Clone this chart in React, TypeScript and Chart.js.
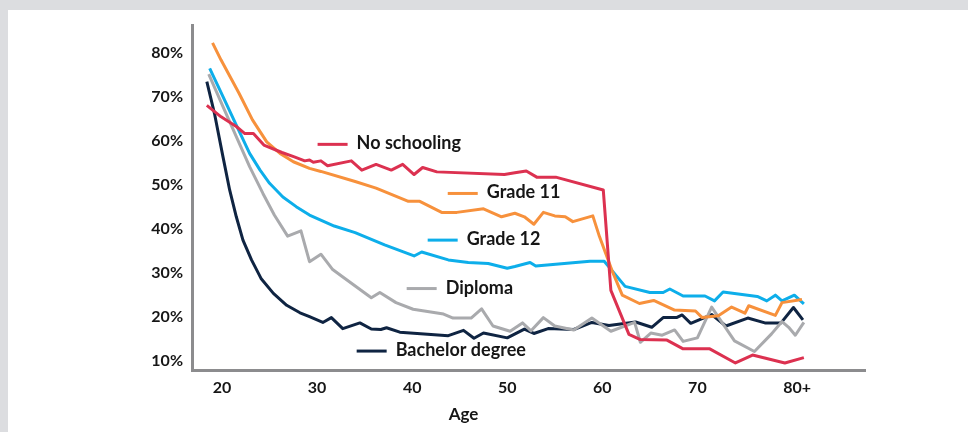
import React, { useEffect, useRef } from 'react';
import { Chart, registerables } from 'chart.js';

Chart.register(...registerables);

// ---- Data (ages in years, values in %) ----
const noSchoolingAges = [18.4, 19.9, 21.5, 22.4, 23.3, 24.4, 26.3, 27.6, 28.7, 29.2, 29.6, 30.4, 31.1, 33.6, 34.7, 36.2, 37.8, 39.0, 40.2, 41.1, 42.6, 49.7, 50.8, 52.0, 53.1, 55.1, 60.1, 60.9, 62.8, 64.0, 66.8, 68.5, 71.3, 74.0, 75.8, 79.2, 81.2];
const noSchoolingValues = [68.1, 65.5, 63.3, 61.7, 61.7, 59.1, 57.4, 56.4, 55.5, 55.7, 55.2, 55.5, 54.4, 55.5, 53.4, 54.7, 53.4, 54.7, 52.4, 54.0, 53.0, 52.4, 52.8, 53.2, 51.8, 51.8, 48.9, 26.1, 16.1, 14.9, 14.8, 12.8, 12.8, 9.6, 11.4, 9.6, 10.8];

const grade11Ages = [19.0, 19.9, 21.8, 23.2, 24.7, 26.1, 27.5, 29.2, 30.4, 34.0, 36.2, 38.0, 39.6, 40.8, 43.1, 44.7, 47.5, 49.4, 50.8, 51.8, 52.8, 53.8, 55.0, 56.1, 56.9, 59.0, 59.7, 61.0, 62.1, 63.9, 65.4, 67.6, 69.8, 70.5, 72.2, 73.6, 75.0, 75.4, 78.2, 78.9, 81.0];
const grade11Values = [82.3, 78.4, 70.8, 64.8, 59.8, 57.2, 55.3, 53.8, 53.1, 50.8, 49.3, 47.7, 46.3, 46.3, 43.8, 43.8, 44.6, 42.8, 43.6, 42.8, 41.1, 43.8, 43.0, 42.8, 41.7, 43.0, 38.3, 30.7, 25.0, 23.1, 23.8, 21.6, 21.4, 19.9, 20.3, 22.3, 20.9, 22.6, 20.4, 23.3, 24.0];

const grade12Ages = [18.7, 20.1, 21.5, 22.9, 24.0, 25.0, 26.4, 27.8, 29.2, 31.8, 34.0, 37.1, 40.2, 41.0, 43.8, 45.9, 48.0, 50.0, 50.8, 52.4, 53.0, 58.7, 60.2, 62.4, 65.0, 66.4, 67.1, 68.5, 70.8, 71.8, 72.7, 76.3, 77.3, 78.2, 78.9, 80.2, 81.2];
const grade12Values = [76.5, 70.1, 63.6, 57.2, 53.4, 50.4, 47.3, 45.1, 43.2, 40.7, 39.2, 36.4, 33.9, 34.8, 33.0, 32.4, 32.2, 31.1, 31.5, 32.4, 31.6, 32.7, 32.7, 27.0, 25.6, 25.6, 26.4, 24.8, 24.8, 23.7, 25.7, 24.7, 23.7, 25.0, 23.7, 25.0, 23.0];

const diplomaAges = [18.6, 20.1, 21.5, 22.9, 24.3, 25.5, 26.9, 28.3, 29.2, 30.4, 31.6, 32.6, 35.7, 36.6, 38.3, 40.1, 43.3, 44.3, 46.2, 47.3, 48.5, 50.3, 51.6, 52.5, 53.8, 55.0, 57.0, 58.9, 60.9, 63.4, 64.0, 65.1, 66.3, 67.6, 68.5, 70.0, 71.5, 73.9, 76.0, 77.8, 78.9, 79.6, 80.3, 81.2];
const diplomaValues = [75.2, 67.8, 61.0, 54.2, 48.1, 43.2, 38.4, 39.6, 32.6, 34.3, 30.9, 29.3, 24.4, 25.6, 23.3, 21.8, 20.7, 19.8, 19.8, 21.9, 18.0, 16.8, 18.7, 16.9, 19.9, 18.0, 17.1, 19.8, 16.8, 18.8, 14.3, 16.4, 15.9, 17.1, 14.5, 15.3, 22.3, 14.6, 12.2, 16.2, 19.0, 17.7, 15.9, 18.8];

const bachelorAges = [18.4, 19.2, 20.1, 20.8, 21.5, 22.2, 23.1, 24.1, 25.4, 26.8, 28.2, 29.2, 30.6, 31.5, 32.7, 34.5, 35.7, 36.7, 37.3, 38.7, 43.8, 45.4, 46.5, 47.5, 50.0, 51.8, 52.8, 54.3, 57.0, 58.9, 60.7, 63.5, 65.2, 66.4, 67.8, 68.4, 69.3, 71.5, 73.0, 75.3, 77.1, 78.8, 80.1, 81.1];
const bachelorValues = [73.5, 66.3, 56.4, 48.9, 42.8, 37.5, 33.0, 28.8, 25.4, 22.7, 21.0, 20.1, 18.8, 19.9, 17.4, 18.7, 17.3, 17.2, 17.6, 16.6, 15.8, 17.0, 15.2, 16.4, 15.3, 17.3, 16.3, 17.4, 17.2, 18.8, 18.1, 18.9, 17.7, 19.9, 19.9, 20.5, 18.6, 20.6, 18.0, 19.8, 18.7, 18.7, 22.2, 19.4];

const seriesNames = ['No schooling', 'Grade 11', 'Grade 12', 'Diploma', 'Bachelor degree'];
const seriesColors = ['#dc3150', '#f7913c', '#0daeea', '#a9aaad', '#0f2442'];

// In-plot label anchors (start of the key line), in data units
const labelAges = [30.05, 43.74, 41.63, 39.42, 34.16];
const labelValues = [59.25, 48.1, 37.5, 26.5, 12.3];

const xTickValues = [20, 30, 40, 50, 60, 70, 80.5];
const xTickLabels = ['20', '30', '40', '50', '60', '70', '80+'];
const yTickValues = [10, 20, 30, 40, 50, 60, 70, 80];
const xAxisTitle = 'Age';
const xAxisTitleAt = 45.4;

export default function App() {
  const canvasRef = useRef<HTMLCanvasElement | null>(null);

  useEffect(() => {
    if (!canvasRef.current) return;
    const series = [
      [noSchoolingAges, noSchoolingValues],
      [grade11Ages, grade11Values],
      [grade12Ages, grade12Values],
      [diplomaAges, diplomaValues],
      [bachelorAges, bachelorValues],
    ];

    const inlineLabels = {
      id: 'inlineLabels',
      afterDatasetsDraw(chart: any) {
        const { ctx, scales } = chart;
        const x = scales.x;
        const y = scales.y;
        ctx.save();
        seriesNames.forEach((name, i) => {
          const px = x.getPixelForValue(labelAges[i]);
          const py = y.getPixelForValue(labelValues[i]);
          ctx.strokeStyle = seriesColors[i];
          ctx.lineWidth = 3;
          ctx.beginPath();
          ctx.moveTo(px, py);
          ctx.lineTo(px + 30, py);
          ctx.stroke();
          ctx.fillStyle = '#161616';
          ctx.font = 'bold 18px Lato';
          ctx.textAlign = 'left';
          ctx.textBaseline = 'alphabetic';
          ctx.fillText(name, px + 39, py + 5);
        });
        ctx.font = 'bold 17px Lato';
        ctx.textAlign = 'center';
        ctx.textBaseline = 'middle';
        ctx.fillStyle = '#161616';
        ctx.fillText(xAxisTitle, x.getPixelForValue(xAxisTitleAt), chart.chartArea.bottom + 45);
        ctx.restore();
      },
    };

    const chart = new Chart(canvasRef.current, {
      type: 'line',
      data: {
        datasets: series.map(([ages, vals], i) => ({
          label: seriesNames[i],
          data: ages.map((a, j) => ({ x: a, y: vals[j] })),
          borderColor: seriesColors[i],
          backgroundColor: seriesColors[i],
          borderWidth: 3,
          pointRadius: 0,
          tension: 0,
          fill: false,
          borderJoinStyle: 'round' as const,
        })),
      },
      options: {
        animation: false,
        responsive: false,
        layout: { padding: { top: 25, right: 103, bottom: 0, left: 0 } },
        plugins: { legend: { display: false }, tooltip: { enabled: false } },
        scales: {
          x: {
            type: 'linear',
            min: 16.84,
            max: 87.63,
            afterBuildTicks: (scale: any) => {
              scale.ticks = xTickValues.map((v) => ({ value: v }));
            },
            afterFit: (scale: any) => {
              scale.height = 62;
            },
            grid: { display: false, drawTicks: false },
            border: { display: true, color: '#8c8c8e', width: 3 },
            ticks: {
              autoSkip: false,
              maxRotation: 0,
              padding: 8,
              color: '#161616',
              font: { family: 'Lato', size: 16, weight: 'bold' },
              callback: (_v: any, i: number) => xTickLabels[i],
            },
          },
          y: {
            type: 'linear',
            min: 8,
            max: 86.36,
            afterBuildTicks: (scale: any) => {
              scale.ticks = yTickValues.map((v) => ({ value: v }));
            },
            afterFit: (scale: any) => {
              scale.width = 192;
            },
            grid: { display: false, drawTicks: false },
            border: { display: true, color: '#8c8c8e', width: 3 },
            ticks: {
              padding: 9,
              color: '#161616',
              font: { family: 'Lato', size: 16, weight: 'bold' },
              callback: (v: any) => `${v}%`,
            },
          },
        },
      },
      plugins: [inlineLabels],
    } as any);

    return () => chart.destroy();
  }, []);

  return (
    <div style={{ position: 'fixed', left: 0, top: 0, width: 968, height: 432, background: '#dcdde0' }}>
      <div style={{ position: 'absolute', left: 8, top: 10, right: 0, bottom: 0, background: '#ffffff' }} />
      <canvas
        ref={canvasRef}
        width={968}
        height={432}
        style={{ position: 'absolute', left: 0, top: 0, width: 968, height: 432 }}
      />
    </div>
  );
}
